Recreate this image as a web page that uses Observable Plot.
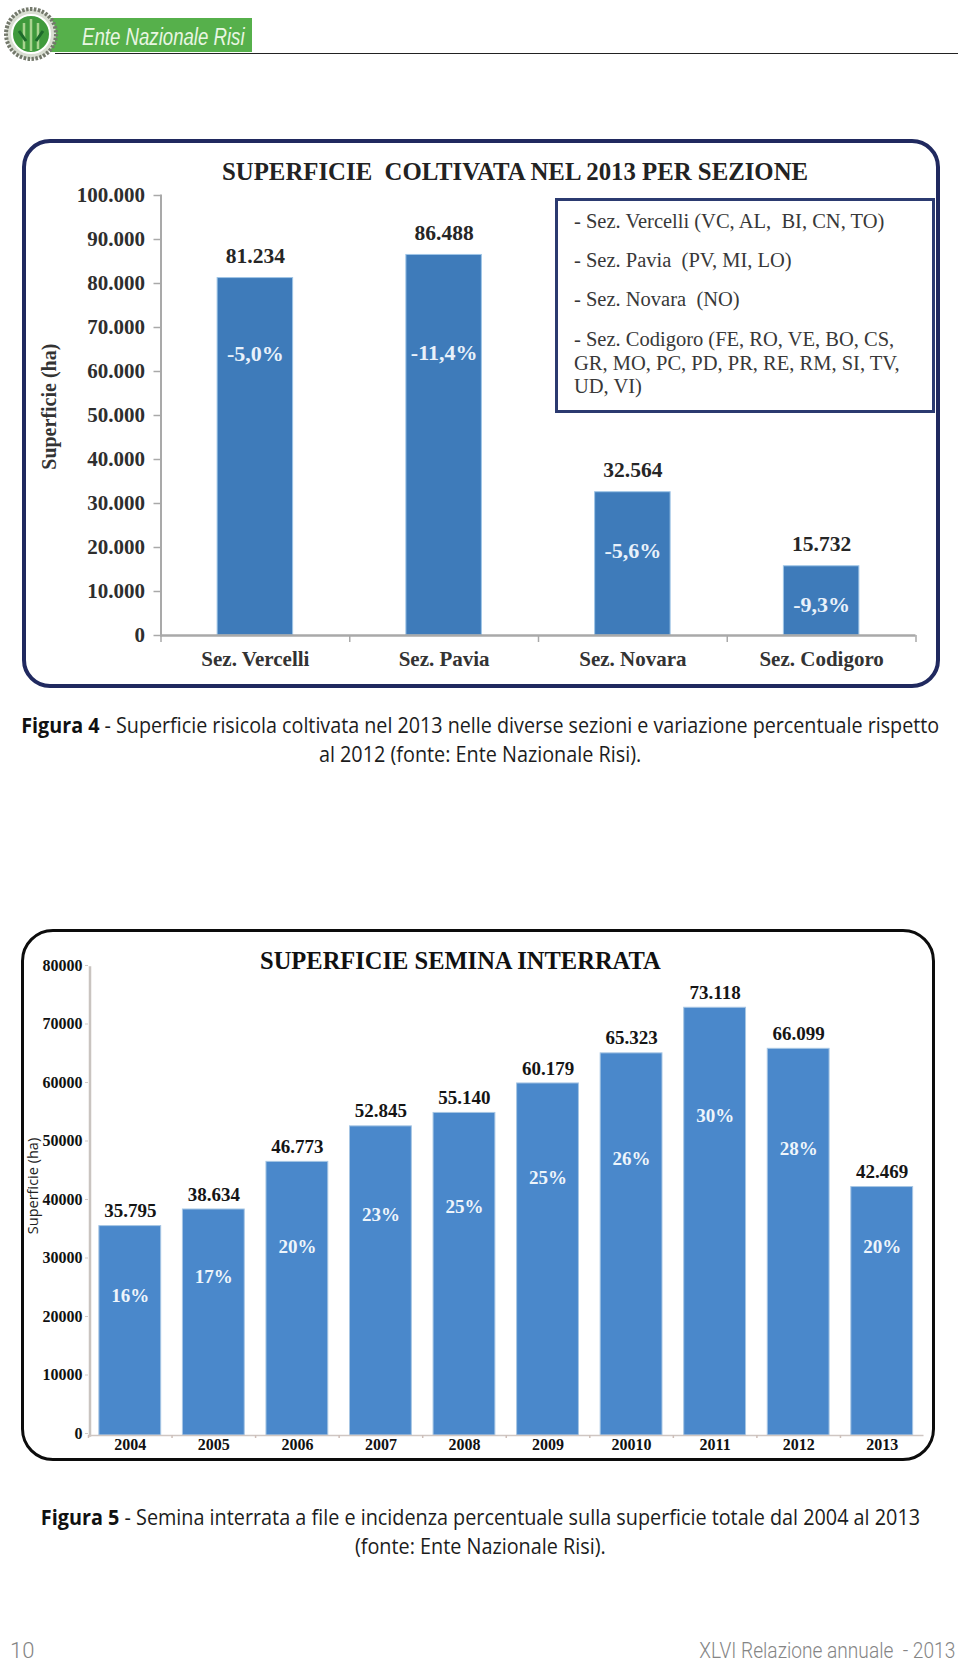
<!DOCTYPE html>
<html lang="it">
<head>
<meta charset="utf-8">
<title>Superficie risicola</title>
<script src="https://cdn.jsdelivr.net/npm/d3@7"></script>
<script src="https://cdn.jsdelivr.net/npm/@observablehq/plot@0.6"></script>
<style>
html,body{margin:0;padding:0;background:#fff;}
#page{position:relative;width:960px;height:1662px;overflow:hidden;}
.abs{position:absolute;white-space:pre;}
.frame{position:absolute;box-sizing:border-box;background:#fff;}
.chart{position:absolute;left:0;}
.title{font:bold 24px "Liberation Serif",serif;color:#222;line-height:1;}
.cap{font:22px "Open Sans",sans-serif;color:#1c1c1c;left:0;width:960px;display:flex;justify-content:center;line-height:1;}
.cap b{font-weight:700;color:#111;}
.cap span{display:block;flex:none;}
.foot{font:300 22px Roboto,sans-serif;color:#858585;line-height:1;}
</style>
</head>
<body>
<div id="page"></div>
<script>
// Figura 4
const sezioni = ["Sez. Vercelli", "Sez. Pavia", "Sez. Novara", "Sez. Codigoro"];
const superficie = [81234, 86488, 32564, 15732];
const variazione = ["-5,0%", "-11,4%", "-5,6%", "-9,3%"];
const variazioneHeight = [64100, 64300, 19300, 7000];
const ticksFig4 = [0, 10000, 20000, 30000, 40000, 50000, 60000, 70000, 80000, 90000, 100000];
const legenda = [
  "- Sez. Vercelli (VC, AL,  BI, CN, TO)",
  "- Sez. Pavia  (PV, MI, LO)",
  "- Sez. Novara  (NO)",
  "- Sez. Codigoro (FE, RO, VE, BO, CS,\nGR, MO, PC, PD, PR, RE, RM, SI, TV,\nUD, VI)"
];

// Figura 5
const anni = ["2004", "2005", "2006", "2007", "2008", "2009", "20010", "2011", "2012", "2013"];
const semina = [35795, 38634, 46773, 52845, 55140, 60179, 65323, 73118, 66099, 42469];
const incidenza = ["16%", "17%", "20%", "23%", "25%", "25%", "26%", "30%", "28%", "20%"];
const incidenzaHeight = [23830, 27060, 32170, 37790, 39150, 44085, 47320, 54640, 49020, 32170];
const ticksFig5 = [0, 10000, 20000, 30000, 40000, 50000, 60000, 70000, 80000];

const page = document.getElementById("page");
const SERIF = '"Liberation Serif", serif';
const dotted = v => String(v).replace(/\B(?=(\d{3})+$)/g, ".");

function add(cls, css, html) {
  const el = document.createElement("div");
  el.className = cls;
  el.style.cssText = css;
  el.innerHTML = html || "";
  page.appendChild(el);
  return el;
}

// Intestazione
add("abs", "left:50px;top:18px;width:202px;height:34px;background:#56b04b;");
add("abs", "left:55px;top:53px;width:903px;height:1px;background:#222;");
add("abs", "left:82px;top:25px;font:italic 23px 'Liberation Sans',sans-serif;color:#e9f6e2;transform:scaleX(.81);transform-origin:0 0;line-height:1.1;", "Ente Nazionale Risi");
add("abs", "left:4px;top:7px;width:54px;height:54px;", `<svg width="54" height="54" viewBox="0 0 54 54">
<circle cx="27" cy="27" r="25" fill="#d9ded2" stroke="#74796c" stroke-width="4" stroke-dasharray="2.5 1.5"/>
<circle cx="27" cy="27" r="19" fill="#3f9a3c" stroke="#ffffff" stroke-width="2"/>
<path d="M20 42V16M27 44V12M34 42V16" stroke="#a9d48f" stroke-width="2.5" fill="none"/>
<path d="M15 24L22 34M39 24L32 34" stroke="#1d6a2b" stroke-width="3" fill="none"/></svg>`);

// Cornici
add("frame", "left:22px;top:139px;width:918px;height:549px;border:4px solid #20295f;border-radius:28px;");
add("frame", "left:21px;top:929px;width:914px;height:532px;border:3.5px solid #0c0c0c;border-radius:32px;");

// Figura 4: grafico
const GREY = "#a9a9a9";
const W1 = 960, L1 = 160.5, R1 = 44.5, step1 = (W1 - L1 - R1) / sezioni.length;
const fig4 = sezioni.map((s, i) => ({s, v: superficie[i], p: variazione[i], h: variazioneHeight[i]}));
const plot1 = Plot.plot({
  width: W1, height: 580, marginTop: 75, marginBottom: 65, marginLeft: L1, marginRight: R1,
  style: {fontFamily: SERIF, background: "transparent", overflow: "visible"},
  x: {domain: sezioni, paddingInner: 0.6, paddingOuter: 0.3, round: false, label: null},
  y: {domain: [0, 100000], label: null},
  marks: [
    Plot.barY(fig4, {x: "s", y: "v", fill: "#3e7bba", stroke: "#9fc5e6", strokeWidth: 1}),
    Plot.frame({anchor: "left", stroke: GREY, strokeWidth: 2}),
    Plot.ruleY([0], {stroke: GREY, strokeWidth: 2.5}),
    Plot.ruleX(sezioni, {x: d => d, y1: 0, y2: 0, insetBottom: -7, dx: -step1 / 2, stroke: GREY, strokeWidth: 1.5}),
    Plot.ruleX(sezioni.slice(-1), {x: d => d, y1: 0, y2: 0, insetBottom: -7, dx: step1 / 2, stroke: GREY, strokeWidth: 1.5}),
    Plot.axisY({ticks: ticksFig4, tickFormat: dotted, tickSize: 7, tickPadding: 9, stroke: GREY, strokeWidth: 1.5,
      fontSize: 21, fontWeight: "bold", fill: "#2e2e2e", label: null}),
    Plot.axisX({tickSize: 0, tickPadding: 16, fontSize: 21, fontWeight: "bold", fill: "#333", label: null}),
    Plot.text(fig4, {x: "s", y: "v", text: d => dotted(d.v), dy: -22, fontSize: 21.5, fontWeight: "bold", fill: "#262626", lineAnchor: "middle"}),
    Plot.text(fig4, {x: "s", y: "h", text: "p", fontSize: 22, fontWeight: "bold", fill: "#e8f1fa", lineAnchor: "middle"}),
    Plot.text(["Superficie (ha)"], {frameAnchor: "left", textAnchor: "middle", y: () => 52000, dx: -111, rotate: -90, text: d => d, fontSize: 20, fontWeight: "bold", fill: "#333", lineAnchor: "middle"})
  ]
});
plot1.classList.add("chart");
plot1.style.top = "120px";
page.appendChild(plot1);

add("abs title", "left:222px;top:160px;font-size:24.8px;", "SUPERFICIE  COLTIVATA NEL 2013 PER SEZIONE");
add("abs", "left:555px;top:198px;width:380px;height:215px;box-sizing:border-box;border:3px solid #2b3a70;background:#fff;");
const legendTops = [210, 249, 288, 328];
legenda.forEach((t, i) => add("abs", `left:574px;top:${legendTops[i]}px;font:20.5px/23.5px ${SERIF};color:#383838;`, t));

// Figura 4: didascalia
add("abs cap", "top:713px;", '<span style="transform:scaleX(.896)"><b>Figura 4</b> - Superficie risicola coltivata nel 2013 nelle diverse sezioni e variazione percentuale rispetto</span>');
add("abs cap", "top:742px;", '<span style="transform:scaleX(.9)">al 2012 (fonte: Ente Nazionale Risi).</span>');

// Figura 5: grafico
const W2 = 960, L2 = 88, R2 = 36.5, step2 = (W2 - L2 - R2) / anni.length;
const fig5 = anni.map((a, i) => ({a, v: semina[i], p: incidenza[i], h: incidenzaHeight[i]}));
const plot2 = Plot.plot({
  width: W2, height: 520, marginTop: 27, marginBottom: 25, marginLeft: L2, marginRight: R2,
  style: {fontFamily: SERIF, background: "transparent", overflow: "visible"},
  x: {domain: anni, paddingInner: 0.26, paddingOuter: 0.13, round: false, label: null},
  y: {domain: [0, 80000], label: null},
  marks: [
    Plot.barY(fig5, {x: "a", y: "v", fill: "#4a88cb", stroke: "#a7c6e4", strokeWidth: 1}),
    Plot.frame({anchor: "left", stroke: "#c9c4c0", strokeWidth: 2.5, dx: 1.5}),
    Plot.ruleY([0], {stroke: "#cfc6c2", strokeWidth: 1.5}),
    Plot.ruleX(anni, {x: d => d, y1: 0, y2: 0, insetBottom: -3, dx: -step2 / 2, stroke: "#cdbfb9", strokeWidth: 1.5}),
    Plot.axisY({ticks: ticksFig5, tickFormat: d => String(d), tickSize: 3, tickPadding: 3, stroke: "#cfc9c5", textStroke: "none",
      fontSize: 16, fontWeight: "bold", fill: "#111", dy: -2, label: null}),
    Plot.axisX({tickSize: 0, tickPadding: 3, fontSize: 16, fontWeight: "bold", fill: "#111", label: null}),
    Plot.text(fig5, {x: "a", y: "v", text: d => dotted(d.v), dy: -15, fontSize: 19, fontWeight: "bold", fill: "#151515", lineAnchor: "middle"}),
    Plot.text(fig5, {x: "a", y: "h", text: "p", fontSize: 19, fontWeight: "bold", fill: "#eef5fb", lineAnchor: "middle"})
  ]
});
plot2.classList.add("chart");
plot2.style.top = "940px";
page.appendChild(plot2);

add("abs title", "left:260px;top:949px;font-size:24.5px;color:#111;", "SUPERFICIE SEMINA INTERRATA");
add("abs", `left:33px;top:1186px;font:14.5px 'Open Sans',sans-serif;color:#222;transform:translate(-50%,-50%) rotate(-90deg);line-height:1;`, "Superficie (ha)");

// Figura 5: didascalia
add("abs cap", "top:1505px;", '<span style="transform:scaleX(.9)"><b>Figura 5</b> - Semina interrata a file e incidenza percentuale sulla superficie totale dal 2004 al 2013</span>');
add("abs cap", "top:1534px;", '<span style="transform:scaleX(.9)">(fonte: Ente Nazionale Risi).</span>');

// Piè di pagina
add("abs foot", "left:10px;top:1640px;", "10");
add("abs foot", "right:5px;top:1640px;transform:scaleX(.87);transform-origin:100% 0;", "XLVI Relazione annuale  - 2013");
</script>
</body>
</html>
